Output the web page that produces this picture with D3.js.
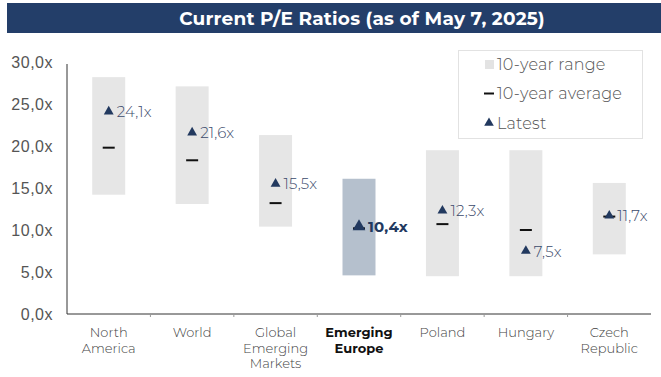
<!DOCTYPE html>
<html>
<head>
<meta charset="utf-8">
<script src="https://cdn.jsdelivr.net/npm/d3@7"></script>
<style>
  body { margin: 0; background: #fff; }
  svg { display: block; font-family: "Montserrat", "Inter", "Noto Sans", sans-serif; }
</style>
</head>
<body>
<svg id="chart" width="661" height="377"></svg>
<script>
// ---- data ----
const categories = [['North', 'America'], ['World'], ['Global', 'Emerging', 'Markets'],
                    ['Emerging', 'Europe'], ['Poland'], ['Hungary'], ['Czech', 'Republic']];
const rangeLow  = [14.2, 13.1, 10.4, 4.6, 4.5, 4.5, 7.1];
const rangeHigh = [28.2, 27.1, 21.3, 16.1, 19.5, 19.5, 15.6];
const average   = [19.8, 18.3, 13.2, 10.2, 10.7, 10.0, 11.6];
const latest    = [24.1, 21.6, 15.5, 10.4, 12.3, 7.5, 11.7];
const latestLbl = ['24,1x', '21,6x', '15,5x', '10,4x', '12,3x', '7,5x', '11,7x'];
const yTicks    = [0, 5, 10, 15, 20, 25, 30];
const highlight = 3;   // Emerging Europe

const svg = d3.select('#chart');
const navy = '#22395f';

// ---- title bar ----
svg.append('rect').attr('x', 7).attr('y', 3).attr('width', 654).attr('height', 30).attr('fill', '#233e69');
svg.append('text').attr('x', 362).attr('y', 24.5).attr('text-anchor', 'middle')
  .attr('fill', '#fff').attr('font-size', 18.5).attr('font-weight', 700).attr('letter-spacing', 0.2)
  .text('Current P/E Ratios (as of May 7, 2025)');

// ---- scales ----
const x = d3.scaleBand().domain(d3.range(categories.length)).range([67, 651]);
const y = d3.scaleLinear().domain([0, 30]).range([314, 62]);
const bw = 33;

const fmt = v => d3.format('.1f')(v).replace('.', ',') + 'x';

// y axis
const yAxis = svg.append('g').attr('transform', 'translate(67,0)')
  .call(d3.axisLeft(y).tickValues(yTicks).tickFormat(fmt).tickSize(0).tickPadding(14));
yAxis.select('.domain').attr('stroke', '#333').attr('d', `M0,${y(30) + 2}V${y(0)}`);
yAxis.selectAll('text').attr('font-size', 16).attr('fill', '#555').attr('font-family', 'inherit')
  .attr('font-weight', 300).attr('letter-spacing', 0.5);

// x axis line + boundary ticks
svg.append('line').attr('x1', 67).attr('x2', 651).attr('y1', y(0)).attr('y2', y(0)).attr('stroke', '#333');
svg.append('g').selectAll('line').data(d3.range(1, categories.length)).join('line')
  .attr('x1', i => 67 + i * x.bandwidth()).attr('x2', i => 67 + i * x.bandwidth())
  .attr('y1', y(0)).attr('y2', y(0) + 3).attr('stroke', '#999');

// x labels
svg.append('g').selectAll('text').data(categories).join('text')
  .attr('x', (d, i) => x(i) + x.bandwidth() / 2)
  .attr('y', 337)
  .attr('text-anchor', 'middle')
  .attr('font-size', 13)
  .attr('fill', (d, i) => i === highlight ? '#111' : '#444')
  .attr('font-weight', (d, i) => i === highlight ? 700 : 300)
  .selectAll('tspan').data(d => d).join('tspan')
  .attr('x', function() { return this.parentNode.getAttribute('x'); })
  .attr('dy', (d, j) => j === 0 ? 0 : 15.5)
  .text(d => d);

// ---- range bars ----
const cx = i => x(i) + x.bandwidth() / 2;
svg.append('g').selectAll('rect').data(rangeLow).join('rect')
  .attr('x', (d, i) => cx(i) - bw / 2)
  .attr('width', bw)
  .attr('y', (d, i) => y(rangeHigh[i]))
  .attr('height', (d, i) => y(d) - y(rangeHigh[i]))
  .attr('fill', (d, i) => i === highlight ? '#b5c0cd' : '#e6e6e6');

// ---- averages ----
svg.append('g').selectAll('line').data(average).join('line')
  .attr('x1', (d, i) => cx(i) - 6).attr('x2', (d, i) => cx(i) + 6)
  .attr('y1', d => y(d)).attr('y2', d => y(d))
  .attr('stroke', '#111').attr('stroke-width', 2);

// ---- latest ----
const tri = d3.symbol().type(d3.symbolTriangle);
svg.append('g').selectAll('path').data(latest).join('path')
  .attr('transform', (d, i) => `translate(${cx(i)},${y(d)})`)
  .attr('d', (d, i) => tri.size(i === highlight ? 70 : 42)())
  .attr('fill', navy);

svg.append('g').selectAll('text').data(latest).join('text')
  .attr('x', (d, i) => cx(i) + (i === highlight ? 9 : 8))
  .attr('y', d => y(d) + 5.5)
  .attr('font-size', 15)
  .attr('font-weight', (d, i) => i === highlight ? 700 : 300)
  .attr('letter-spacing', 0.2)
  .attr('fill', (d, i) => i === highlight ? navy : '#3b4a6b')
  .text((d, i) => latestLbl[i]);

// ---- legend ----
const lg = svg.append('g');
lg.append('rect').attr('x', 458.5).attr('y', 50.5).attr('width', 184).attr('height', 88)
  .attr('fill', '#fff').attr('stroke', '#e2e2e2');
const legendItems = ['10-year range', '10-year average', 'Latest'];
const row = i => 64 + i * 29.5;
lg.append('rect').attr('x', 485).attr('y', row(0) - 4).attr('width', 9).attr('height', 9).attr('fill', '#e3e3e3');
lg.append('line').attr('x1', 484).attr('x2', 494).attr('y1', row(1)).attr('y2', row(1)).attr('stroke', '#111').attr('stroke-width', 2);
lg.append('path').attr('transform', `translate(489,${row(2)})`).attr('d', tri.size(40)()).attr('fill', navy);
lg.selectAll('text').data(legendItems).join('text')
  .attr('x', 497).attr('y', (d, i) => row(i) + 5.5)
  .attr('font-size', 16).attr('font-weight', 300).attr('fill', '#555').attr('letter-spacing', 0.2)
  .text(d => d);
</script>
</body>
</html>
